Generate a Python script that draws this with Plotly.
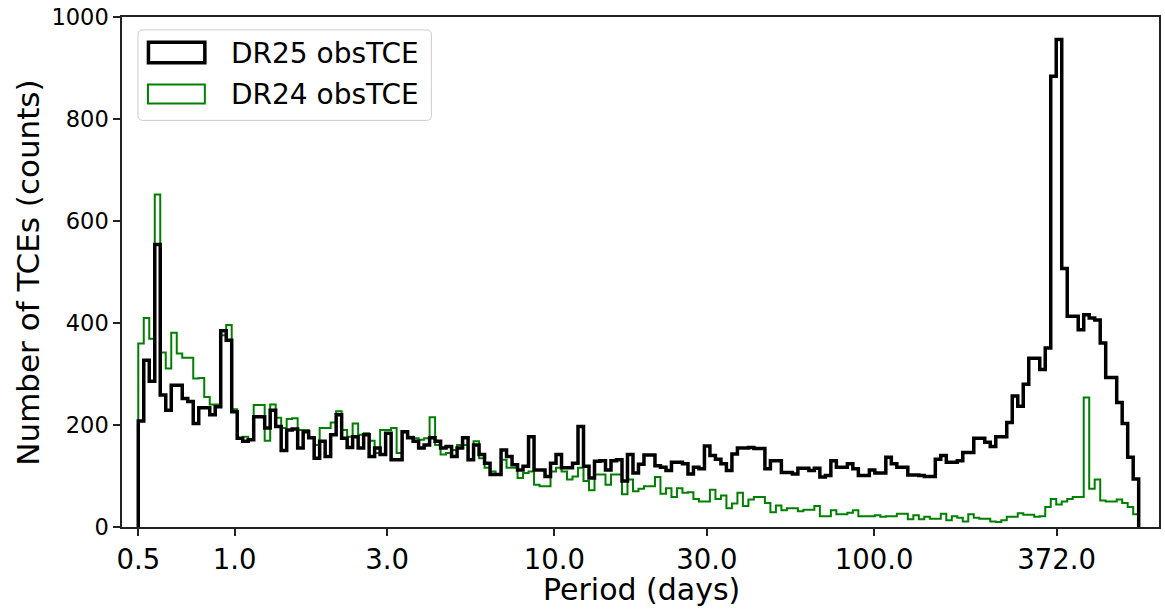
import numpy as np
import plotly.graph_objects as go

# ---------------- data ----------------
PERIOD_MIN = 0.5      # first bin edge (days)
PERIOD_MAX = 672.0    # last bin edge (days)

dr25_counts = [
    208, 327, 286, 554, 259, 229, 278, 278, 252, 246,
    203, 234, 234, 220, 236, 385, 366, 226, 174, 168,
    171, 216, 216, 194, 229, 197, 150, 190, 192, 155,
    187, 175, 135, 168, 138, 181, 220, 174, 156, 177,
    155, 181, 138, 155, 142, 184, 132, 132, 187, 175,
    168, 155, 161, 175, 168, 155, 158, 138, 155, 175,
    132, 161, 142, 125, 103, 103, 151, 138, 122, 112,
    119, 177, 112, 112, 99, 125, 142, 116, 116, 125,
    197, 119, 96, 129, 130, 112, 130, 132, 90, 142,
    106,
    123, 141, 141, 120, 117, 111, 127, 127, 124, 104, 117, 114,
    159, 140, 133, 124, 111,
    143, 155, 155, 156, 154,
    154, 114, 130, 130, 107,
    107, 104, 115, 115, 111,
    115, 98, 101, 130, 117,
    117, 124, 114, 101, 101,
    112, 106, 106, 137, 124,
    117, 117, 102, 102, 101,
    99, 99, 133, 140, 127,
    127, 130, 146, 146, 174,
    174, 166, 158, 177, 177,
    205, 257, 237, 280, 331,
    331, 309, 351, 884, 956,
    507, 413, 413, 387, 416,
    410, 406, 361, 293, 293,
    244, 203, 137, 94,
]

dr24_counts = [
    360, 410, 369, 652, 342, 311, 381, 340, 332, 332,
    291, 292, 255, 240, 240, 376, 396, 231, 174, 177,
    171, 239, 239, 169, 240, 214, 194, 212, 213, 190,
    190, 175, 161, 194, 194, 205, 227, 190, 177, 203,
    181, 184, 169, 145, 190, 190, 194, 145, 186, 177,
    174, 171, 174, 215, 161, 142, 145, 151, 161, 161,
    132, 168, 135, 116, 109, 103, 132, 116, 116, 96,
    106, 109, 83, 80, 80, 109, 116, 109, 93, 99,
    116, 90, 72, 103, 103, 83, 103, 103, 64, 93,
    70,
    75, 80, 80, 98, 65, 76, 59, 76, 67, 68,
    55, 50, 50, 73, 55, 62, 37, 46, 67, 41,
    54, 59, 59, 47, 29, 42, 33, 37, 37, 31,
    34, 34, 41, 21, 21, 33, 25, 25, 28, 33,
    21, 21, 21, 23, 20, 21, 21, 26, 26, 15,
    23, 15, 20, 16, 16, 26, 13, 21, 18, 11,
    25, 18, 16, 16, 11, 10, 13, 20, 20, 27,
    24, 24, 20, 21, 39, 55, 44, 50, 55, 59,
    59, 254, 75, 93, 52, 50, 50, 54, 47, 39,
    25,
]

x_tick_vals = [0.5, 1.0, 3.0, 10.0, 30.0, 100.0, 372.0]
x_tick_text = ["0.5", "1.0", "3.0", "10.0", "30.0", "100.0", "372.0"]
y_tick_vals = [0, 200, 400, 600, 800, 1000]
series_names = ["DR25 obsTCE", "DR24 obsTCE"]

# ---------------- layout constants ----------------
W, H = 1165, 614
L, R, T, B = 122, 4, 14, 87
PW, PH = W - L - R, H - T - B
FONT = "DejaVu Sans"


def px_x(p):
    return (p - L) / PW


def px_y(p):
    return (T + PH - p) / PH


n_bins = len(dr25_counts)
edges = np.logspace(np.log10(PERIOD_MIN), np.log10(PERIOD_MAX), n_bins + 1)


def step_xy(counts):
    xs = [edges[0]] + list(edges[:-1]) + [edges[-1]]
    ys = [0] + list(counts) + [0]
    return xs, ys


fig = go.Figure()
gx, gy = step_xy(dr24_counts)
fig.add_trace(go.Scatter(x=gx, y=gy, mode="lines", line=dict(color="#008000", width=2, shape="hv"),
                         name=series_names[1], showlegend=False))
bx, by = step_xy(dr25_counts)
fig.add_trace(go.Scatter(x=bx, y=by, mode="lines", line=dict(color="#000000", width=3.5, shape="hv"),
                         name=series_names[0], showlegend=False))

axis_common = dict(
    showgrid=False, zeroline=False, showline=True, linecolor="#222222", linewidth=1.5,
    mirror=True, ticks="outside", ticklen=7, tickwidth=1.5, tickcolor="#222222",
)

fig.update_layout(
    width=W, height=H,
    margin=dict(l=L, r=R, t=T, b=B),
    plot_bgcolor="white", paper_bgcolor="white",
    xaxis=dict(type="log", range=[-0.3519, 2.8909], tickvals=x_tick_vals, ticktext=x_tick_text,
               tickfont=dict(family=FONT, size=27.5, color="black"), **axis_common),
    yaxis=dict(range=[0, 1000], tickvals=y_tick_vals,
               tickfont=dict(family=FONT, size=22.5, color="black"), **axis_common),
    showlegend=False,
)

# axis titles
fig.add_annotation(text="Period (days)", xref="paper", yref="paper", x=px_x(642.5), y=px_y(590),
                   xanchor="center", yanchor="middle", showarrow=False,
                   font=dict(family=FONT, size=30, color="black"))
fig.add_annotation(text="Number of TCEs (counts)", xref="paper", yref="paper", x=px_x(28), y=px_y(271),
                   xanchor="center", yanchor="middle", showarrow=False, textangle=-90,
                   font=dict(family=FONT, size=31, color="black"))

# legend frame (rounded)
x0, x1, y0, y1, r = 138, 432, 27, 118, 5
rx, ry = r / PW, r / PH
X0, X1, Y0, Y1 = px_x(x0), px_x(x1), px_y(y0), px_y(y1)
path = (f"M {X0+rx},{Y0} L {X1-rx},{Y0} Q {X1},{Y0} {X1},{Y0-ry} "
        f"L {X1},{Y1+ry} Q {X1},{Y1} {X1-rx},{Y1} "
        f"L {X0+rx},{Y1} Q {X0},{Y1} {X0},{Y1+ry} "
        f"L {X0},{Y0-ry} Q {X0},{Y0} {X0+rx},{Y0} Z")
fig.add_shape(type="path", path=path, xref="paper", yref="paper",
              line=dict(color="#cccccc", width=1), fillcolor="rgba(255,255,255,0.8)", layer="above")

# legend patches
fig.add_shape(type="rect", xref="paper", yref="paper", x0=px_x(148.5), x1=px_x(205), y0=px_y(39.5), y1=px_y(60),
              line=dict(color="#000000", width=3.5), fillcolor="rgba(0,0,0,0)", layer="above")
fig.add_shape(type="rect", xref="paper", yref="paper", x0=px_x(148), x1=px_x(205), y0=px_y(82), y1=px_y(101),
              line=dict(color="#008000", width=2), fillcolor="rgba(0,0,0,0)", layer="above")

fig.add_annotation(text=series_names[0], xref="paper", yref="paper", x=px_x(229), y=px_y(51),
                   xanchor="left", yanchor="middle", showarrow=False,
                   font=dict(family=FONT, size=28, color="black"))
fig.add_annotation(text=series_names[1], xref="paper", yref="paper", x=px_x(229), y=px_y(92),
                   xanchor="left", yanchor="middle", showarrow=False,
                   font=dict(family=FONT, size=28, color="black"))

fig.write_html("out.html", config={"displayModeBar": False},
               post_script="document.body.style.margin='0px';")
